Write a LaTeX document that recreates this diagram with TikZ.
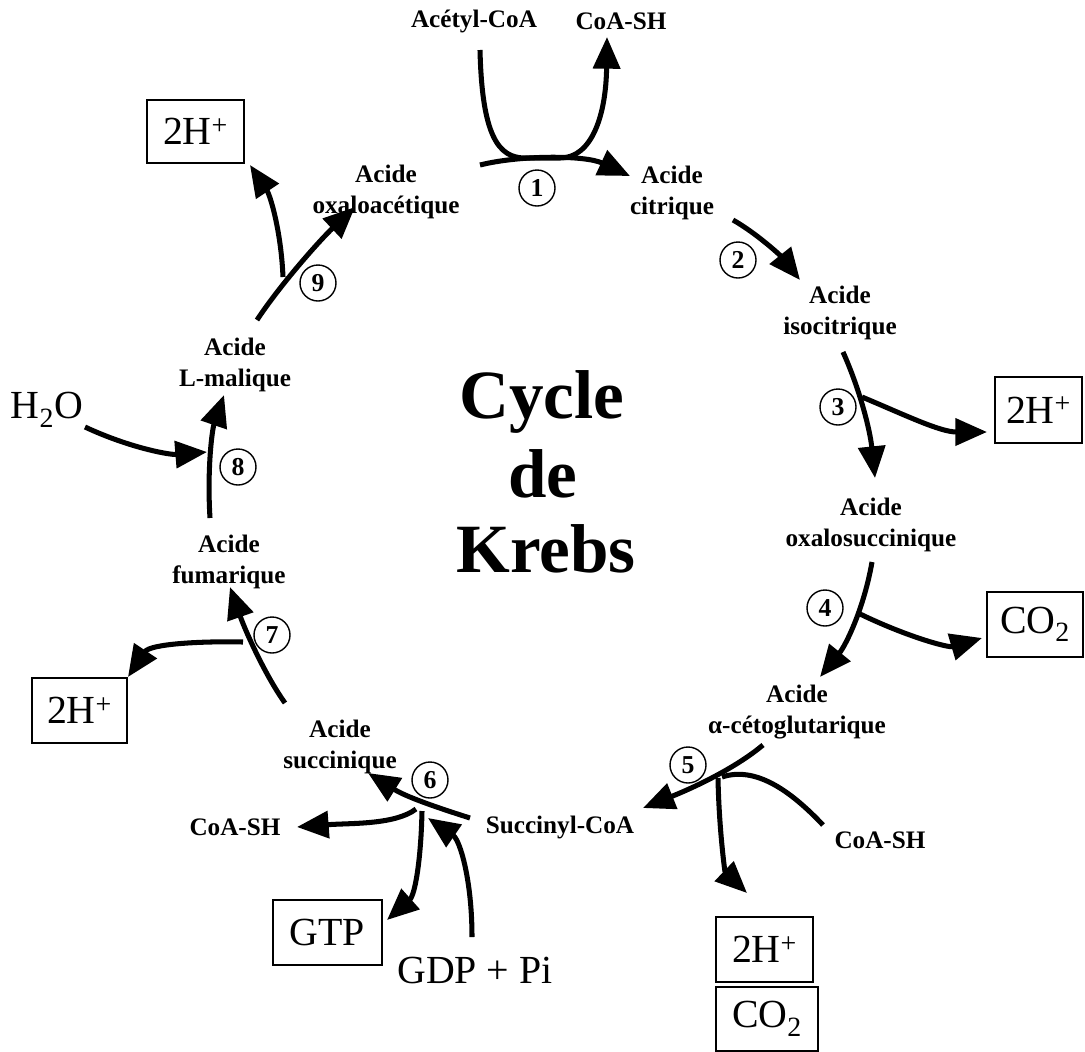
\documentclass[tikz,border=0pt]{standalone}
\usepackage{fontspec}
\setmainfont{Liberation Serif}
\usetikzlibrary{arrows.meta}
\begin{document}
\begin{tikzpicture}[x=0.03cm,y=-0.03cm,
 lbl/.style={font=\fontsize{21.5}{26.5}\selectfont\bfseries, align=center, inner sep=0pt},
 big/.style={font=\fontsize{34}{40}\selectfont, inner sep=0pt},
 ttl/.style={font=\fontsize{59}{64}\selectfont\bfseries, inner sep=0pt},
 box/.style={draw, line width=1.2pt, inner sep=0pt, font=\fontsize{34}{40}\selectfont},
 num/.style={draw, circle, line width=1.2pt, minimum size=1.08cm, inner sep=0pt, font=\fontsize{22}{24}\selectfont\bfseries},
 rx/.style={line width=4.3pt, -{Triangle[length=0.95cm,width=0.8cm]}},
 ln/.style={line width=4.3pt},
]
\useasboundingbox (0,0) rectangle (1085,1051);

% labels
\node[lbl] (acetyl) at (474,21) {Acétyl-CoA};
\node[lbl] (coatop) at (621,21) {CoA-SH};
\node[lbl] (oxa) at (386,192) {Acide\\oxaloacétique};
\node[lbl] (cit) at (672,193) {Acide\\citrique};
\node[lbl] (iso) at (840,313) {Acide\\isocitrique};
\node[lbl] (oxs) at (871,525) {Acide\\oxalosuccinique};
\node[lbl] (ceto) at (797,712) {Acide\\α-cétoglutarique};
\node[lbl] (succoa) at (560,827) {Succinyl-CoA};
\node[lbl] (coar) at (880,840) {CoA-SH};
\node[lbl] (succ) at (340,747) {Acide\\succinique};
\node[lbl] (coal) at (235,827) {CoA-SH};
\node[lbl] (fum) at (229,562) {Acide\\fumarique};
\node[lbl] (mal) at (235,365) {Acide\\L-malique};
\node[big] (h2o) at (47,410) {H\textsubscript{2}O};
\node[big] (gdp) at (475,970) {GDP + Pi};

% title
\node[ttl, anchor=base] (t1) at (542,418) {Cycle};
\node[ttl, anchor=base] (t2) at (543,497) {de};
\node[ttl, anchor=base] (t3) at (546,572) {Krebs};

% boxes
\node[box, minimum width=2.91cm, minimum height=1.89cm] (hA) at (195.5,131.5) {2H\textsuperscript{+}};
\node[box, minimum width=2.61cm, minimum height=1.98cm] (hB) at (1038.5,410) {2H\textsuperscript{+}};
\node[box, minimum width=2.88cm, minimum height=1.95cm] (cA) at (1035,624.5) {CO\textsubscript{2}};
\node[box, minimum width=2.85cm, minimum height=1.95cm] (hC) at (79.5,710.5) {2H\textsuperscript{+}};
\node[box, minimum width=3.27cm, minimum height=1.95cm] (gtp) at (327.5,932.5) {GTP};
\node[box, minimum width=2.91cm, minimum height=1.95cm] (hD) at (764.5,949.5) {2H\textsuperscript{+}};
\node[box, minimum width=3.06cm, minimum height=1.92cm] (cB) at (767,1019) {CO\textsubscript{2}};

% step numbers
\node[num] (n1) at (537,188) {1};
\node[num] (n2) at (738,260) {2};
\node[num] (n3) at (838,407) {3};
\node[num] (n4) at (825,608) {4};
\node[num] (n5) at (688,765) {5};
\node[num] (n6) at (430,780) {6};
\node[num] (n7) at (272,635) {7};
\node[num] (n8) at (238,467) {8};
\node[num] (n9) at (318,283) {9};

% connector end points
\coordinate (a1) at (480,165); \coordinate (b1) at (630,176);
\coordinate (u1) at (480,50);  \coordinate (v1) at (607,37);
\coordinate (a2) at (733,220); \coordinate (b2) at (800,280);
\coordinate (a3) at (843,352); \coordinate (b3) at (875,478);
\coordinate (j3) at (862,397); \coordinate (e3) at (987,432);
\coordinate (a4) at (872,562); \coordinate (b4) at (820,677);
\coordinate (j4) at (858,613); \coordinate (e4) at (982,638);
\coordinate (a5) at (763,745); \coordinate (b5) at (643,808);
\coordinate (c5) at (823,825); \coordinate (j5) at (722,777);
\coordinate (d5) at (718,778); \coordinate (e5) at (747,893);
\coordinate (a6) at (470,818); \coordinate (b6) at (368,773);
\coordinate (j6) at (416,809); \coordinate (c6) at (297,827);
\coordinate (k6) at (422,811); \coordinate (g6) at (387,920);
\coordinate (p6) at (472,937); \coordinate (q6) at (428,818);
\coordinate (a7) at (285,703); \coordinate (b7) at (230,587);
\coordinate (j7) at (243,642); \coordinate (e7) at (128,677);
\coordinate (a8) at (210,518); \coordinate (b8) at (224,395);
\coordinate (w8) at (85,427);  \coordinate (x8) at (207,452);
\coordinate (a9) at (257,320); \coordinate (b9) at (355,207);
\coordinate (j9) at (283,277); \coordinate (e9) at (250,165);

% reaction 1
\draw[rx] (a1) .. controls (520,155) and (585,155) .. (b1);
\draw[rx] (u1) .. controls (482,135) and (498,158) .. (525,158) -- (560,158) .. controls (592,158) and (606,115) .. (v1);
% reaction 2
\draw[rx] (a2) .. controls (756,233) and (780,255) .. (b2);
% reaction 3
\draw[rx] (a3) .. controls (860,390) and (870,430) .. (b3);
\draw[rx] (j3) .. controls (905,415) and (940,432) .. (e3);
% reaction 4
\draw[rx] (a4) .. controls (864,608) and (846,645) .. (b4);
\draw[rx] (j4) .. controls (905,636) and (948,648) .. (e4);
% reaction 5
\draw[rx] (a5) .. controls (738,766) and (700,785) .. (b5);
\draw[ln] (c5) .. controls (790,790) and (755,766) .. (j5);
\draw[rx] (d5) .. controls (719,830) and (725,872) .. (e5);
% reaction 6
\draw[rx] (a6) .. controls (445,810) and (408,798) .. (b6);
\draw[rx] (j6) .. controls (395,825) and (350,823) .. (c6);
\draw[rx] (k6) .. controls (421,860) and (415,895) .. (g6);
\draw[rx] (p6) .. controls (472,880) and (460,840) .. (q6);
% reaction 7
\draw[rx] (a7) .. controls (265,675) and (245,630) .. (b7);
\draw[rx] (j7) .. controls (200,641) and (150,644) .. (e7);
% reaction 8
\draw[rx] (a8) .. controls (207,470) and (212,430) .. (b8);
\draw[rx] (w8) .. controls (130,448) and (170,455) .. (x8);
% reaction 9
\draw[rx] (a9) .. controls (280,285) and (320,240) .. (b9);
\draw[rx] (j9) .. controls (281,230) and (270,195) .. (e9);
\end{tikzpicture}
\end{document}
